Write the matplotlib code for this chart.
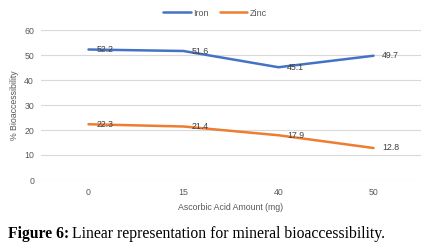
import matplotlib
matplotlib.use("Agg")
import matplotlib.pyplot as plt

doses = ["0", "15", "40", "50"]
iron = [52.2, 51.6, 45.1, 49.7]
zinc = [22.3, 21.4, 17.9, 12.8]
y_ticks = [0, 10, 20, 30, 40, 50, 60]

blue = "#4472C4"
orange = "#ED7D31"
grey = "#595959"
font = "Liberation Sans"

fig = plt.figure(figsize=(4.37, 2.47), dpi=100)
ax = fig.add_axes([41 / 437, 67 / 247, 380 / 437, 150 / 247])

x = list(range(len(doses)))
ax.plot(x, iron, color=blue, lw=1.8, label="Iron", solid_capstyle="round")
ax.plot(x, zinc, color=orange, lw=1.8, label="Zinc", solid_capstyle="round")

for series in (iron, zinc):
    for xi, v in zip(x, series):
        ax.annotate(f"{v}", (xi, v), xytext=(6, 0), textcoords="offset points",
                    ha="left", va="center", fontsize=6.3, color="#404040", family=font)

ax.set_xlim(-0.5, len(doses) - 0.5)
ax.set_ylim(0, 60)
ax.set_yticks(y_ticks)
ax.set_xticks(x)
ax.set_xticklabels(doses)
ax.grid(axis="y", color="#D9D9D9", lw=0.8)
ax.set_axisbelow(True)
for s in ax.spines.values():
    s.set_visible(False)
ax.tick_params(axis="y", length=0, labelsize=6.3, labelcolor=grey, pad=5)
ax.tick_params(axis="x", length=0, labelsize=6.3, labelcolor=grey, pad=6)
for lab in ax.get_xticklabels() + ax.get_yticklabels():
    lab.set_family(font)

ax.set_xlabel("Ascorbic Acid Amount (mg)", fontsize=6.3, color=grey, family=font)
ax.xaxis.set_label_coords(0.5, -23 / 150)
ax.set_ylabel("% Bioaccessibility", fontsize=6.3, color=grey, family=font)
ax.yaxis.set_label_coords(-22 / 380, 0.5)

leg = fig.legend(loc="center", bbox_to_anchor=(215 / 437, 1 - 13 / 247), ncol=2,
                 frameon=False, handlelength=3.0, columnspacing=1.2,
                 handletextpad=0.3, prop={"family": font, "size": 6.5})
for t in leg.get_texts():
    t.set_color(grey)

# caption: bold prefix then regular text
cap_y = 9 / 247
t1 = fig.text(8 / 437, cap_y, "Figure 6:", fontsize=11.3, fontweight="bold",
              family="Liberation Serif", va="baseline")
fig.canvas.draw()
bb = t1.get_window_extent(fig.canvas.get_renderer())
fig.text(bb.x1 / fig.bbox.width + 3 / 437, cap_y,
         "Linear representation for mineral bioaccessibility.",
         fontsize=11.3, family="Liberation Serif", va="baseline")

fig.savefig("out.png", dpi=100)
